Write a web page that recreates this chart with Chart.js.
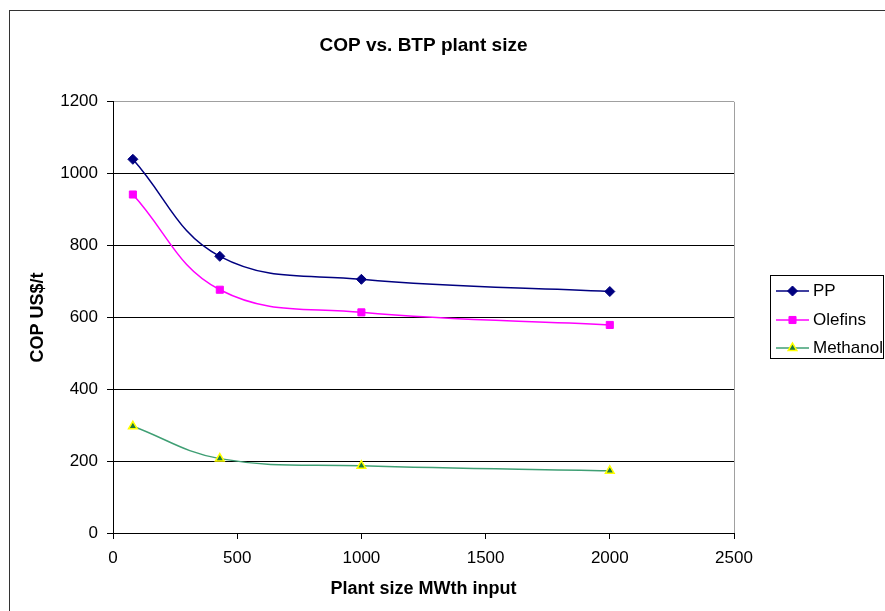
<!DOCTYPE html>
<html lang="en">
<head>
    <meta charset="UTF-8">
    <title>COP vs. BTP plant size</title>
    <script src="https://cdn.jsdelivr.net/npm/chart.js@4.4.0/dist/chart.umd.min.js"></script>
    <style>
        body { margin: 0; background: #fff; }
        canvas { display: block; }
    </style>
</head>
<body>
    <canvas id="myChart" width="885" height="611"></canvas>
    <script>
        // plant size, MWth input
        const plantSizes = [80, 430, 1000, 2000];
        // COP, US$/t
        const copPP = [1040, 770, 706, 672];
        const copOlefins = [942, 677, 614, 579];
        const copMethanol = [297, 207, 187, 173];

        const FONT = "'Liberation Sans', Arial, sans-serif";

        function toPoints(ys) {
            return plantSizes.map((x, i) => ({ x: x, y: ys[i] }));
        }

        // marker shapes, same as the ones chart.js draws on the lines
        function drawMarker(ctx, ds, x, y) {
            const r = ds.pointRadius;
            ctx.save();
            ctx.fillStyle = ds.pointBackgroundColor;
            ctx.strokeStyle = ds.pointBorderColor;
            ctx.lineWidth = ds.pointBorderWidth;
            ctx.beginPath();
            if (ds.pointStyle === 'rectRot') {
                ctx.moveTo(x, y - r);
                ctx.lineTo(x + r, y);
                ctx.lineTo(x, y + r);
                ctx.lineTo(x - r, y);
                ctx.closePath();
            } else if (ds.pointStyle === 'rect') {
                const s = r / Math.SQRT2;
                ctx.rect(x - s, y - s, 2 * s, 2 * s);
            } else {
                let a = 0;
                ctx.moveTo(x + Math.sin(a) * r, y - Math.cos(a) * r);
                a += 2 * Math.PI / 3;
                ctx.lineTo(x + Math.sin(a) * r, y - Math.cos(a) * r);
                a += 2 * Math.PI / 3;
                ctx.lineTo(x + Math.sin(a) * r, y - Math.cos(a) * r);
                ctx.closePath();
            }
            ctx.fill();
            ctx.stroke();
            ctx.restore();
        }

        // white background + outer chart frame
        const framePlugin = {
            id: 'frame',
            beforeDraw(chart) {
                const ctx = chart.ctx;
                ctx.save();
                ctx.fillStyle = '#fff';
                ctx.fillRect(0, 0, chart.width, chart.height);
                ctx.strokeStyle = '#333';
                ctx.lineWidth = 1;
                ctx.strokeRect(9.5, 10.5, chart.width + 20, chart.height + 20);
                ctx.restore();
            }
        };

        // excel style legend: boxed, line + marker
        const boxLegend = {
            id: 'boxLegend',
            afterDraw(chart) {
                const ctx = chart.ctx;
                const rows = [291, 320, 348];
                ctx.save();
                ctx.fillStyle = '#fff';
                ctx.fillRect(770.5, 275.5, 113, 83);
                ctx.strokeStyle = '#000';
                ctx.lineWidth = 1;
                ctx.strokeRect(770.5, 275.5, 113, 83);
                chart.data.datasets.forEach((ds, i) => {
                    const y = rows[i];
                    ctx.strokeStyle = ds.borderColor;
                    ctx.lineWidth = ds.borderWidth;
                    ctx.beginPath();
                    ctx.moveTo(776, y);
                    ctx.lineTo(809, y);
                    ctx.stroke();
                    drawMarker(ctx, ds, 792.5, y);
                    ctx.fillStyle = '#000';
                    ctx.font = '17px ' + FONT;
                    ctx.textBaseline = 'middle';
                    ctx.fillText(ds.label, 813, y);
                });
                ctx.restore();
            }
        };

        const ctx = document.getElementById('myChart').getContext('2d');
        const myChart = new Chart(ctx, {
            type: 'scatter',
            data: {
                datasets: [
                    {
                        label: 'PP',
                        data: toPoints(copPP),
                        showLine: true,
                        borderColor: '#000080',
                        borderWidth: 1.5,
                        tension: 0.4,
                        pointStyle: 'rectRot',
                        pointRadius: 5,
                        pointBackgroundColor: '#000080',
                        pointBorderColor: '#000080',
                        pointBorderWidth: 1
                    },
                    {
                        label: 'Olefins',
                        data: toPoints(copOlefins),
                        showLine: true,
                        borderColor: '#ff00ff',
                        borderWidth: 1.5,
                        tension: 0.4,
                        pointStyle: 'rect',
                        pointRadius: 5,
                        pointBackgroundColor: '#ff00ff',
                        pointBorderColor: '#ff00ff',
                        pointBorderWidth: 1
                    },
                    {
                        label: 'Methanol',
                        data: toPoints(copMethanol),
                        showLine: true,
                        borderColor: '#3f9f74',
                        borderWidth: 1.5,
                        tension: 0.4,
                        pointStyle: 'triangle',
                        pointRadius: 5,
                        pointBackgroundColor: '#1d7a3a',
                        pointBorderColor: '#ffff00',
                        pointBorderWidth: 1.5
                    }
                ]
            },
            options: {
                responsive: false,
                animation: false,
                devicePixelRatio: 1,
                layout: {
                    padding: { left: 0, right: 151, top: 0, bottom: 0 }
                },
                scales: {
                    x: {
                        type: 'linear',
                        min: 0,
                        max: 2500,
                        afterFit: (s) => { s.height = 78; },
                        ticks: {
                            stepSize: 500,
                            color: '#000',
                            padding: 9,
                            font: { family: FONT, size: 17 },
                            callback: (v) => String(v)
                        },
                        grid: {
                            color: (c) => (c.tick && c.tick.value === 2500) ? '#a0a0a0' : 'rgba(0,0,0,0)',
                            tickColor: '#000',
                            tickLength: 6
                        },
                        border: { color: '#000', width: 1 },
                        title: {
                            display: true,
                            text: 'Plant size MWth input',
                            color: '#000',
                            font: { family: FONT, size: 18, weight: 'bold' },
                            padding: { top: 0, bottom: 11 }
                        }
                    },
                    y: {
                        min: 0,
                        max: 1200,
                        afterFit: (s) => { s.width = 113; },
                        ticks: {
                            stepSize: 200,
                            color: '#000',
                            padding: 9,
                            font: { family: FONT, size: 17 },
                            callback: (v) => String(v)
                        },
                        grid: {
                            color: (c) => (c.tick && c.tick.value === 1200) ? '#a0a0a0' : '#000',
                            tickColor: '#000',
                            tickLength: 6
                        },
                        border: { color: '#000', width: 1 },
                        title: {
                            display: true,
                            text: 'COP US$/t',
                            color: '#000',
                            font: { family: FONT, size: 18, weight: 'bold' },
                            padding: { top: 27, bottom: 0 }
                        }
                    }
                },
                plugins: {
                    legend: { display: false },
                    tooltip: { enabled: false },
                    title: {
                        display: true,
                        text: 'COP vs. BTP plant size',
                        color: '#000',
                        fullSize: false,
                        font: { family: FONT, size: 19, weight: 'bold' },
                        padding: { top: 34, bottom: 45 }
                    }
                }
            },
            plugins: [framePlugin, boxLegend]
        });
    </script>
</body>
</html>
